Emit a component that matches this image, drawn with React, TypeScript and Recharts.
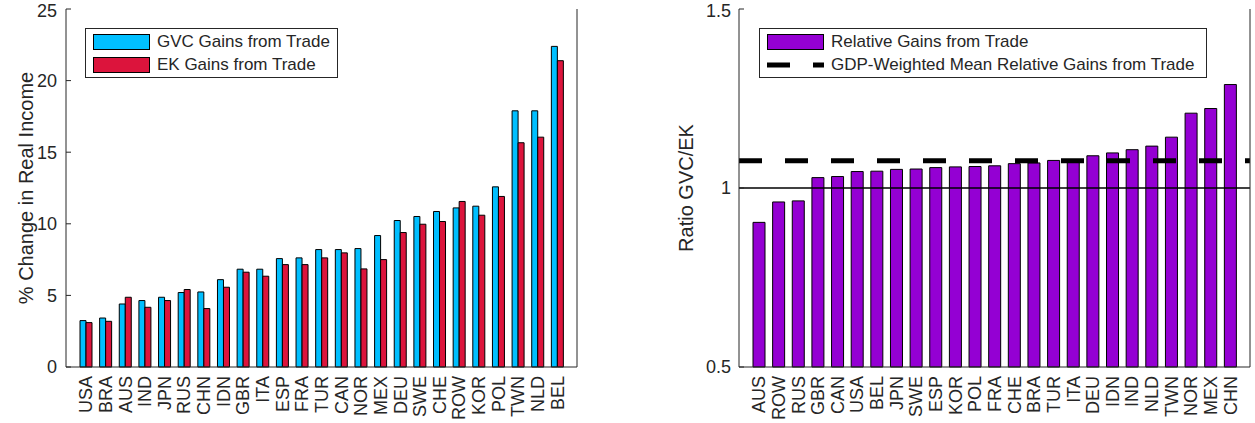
import { BarChart, Bar, XAxis, YAxis, ReferenceLine, Legend, Label } from 'recharts'

const gainCountries = ['USA', 'BRA', 'AUS', 'IND', 'JPN', 'RUS', 'CHN', 'IDN', 'GBR', 'ITA', 'ESP', 'FRA', 'TUR', 'CAN', 'NOR', 'MEX', 'DEU', 'SWE', 'CHE', 'ROW', 'KOR', 'POL', 'TWN', 'NLD', 'BEL']
const gvcGains = [3.24, 3.42, 4.4, 4.64, 4.87, 5.2, 5.24, 6.1, 6.83, 6.83, 7.57, 7.62, 8.2, 8.2, 8.27, 9.18, 10.23, 10.51, 10.86, 11.11, 11.23, 12.58, 17.89, 17.89, 22.39]
const ekGains = [3.1, 3.19, 4.87, 4.17, 4.64, 5.41, 4.08, 5.57, 6.62, 6.34, 7.15, 7.15, 7.62, 7.97, 6.85, 7.5, 9.39, 9.97, 10.16, 11.56, 10.6, 11.91, 15.66, 16.05, 21.39]
const gainTicks = [0, 5, 10, 15, 20, 25]

const ratioCountries = ['AUS', 'ROW', 'RUS', 'GBR', 'CAN', 'USA', 'BEL', 'JPN', 'SWE', 'ESP', 'KOR', 'POL', 'FRA', 'CHE', 'BRA', 'TUR', 'ITA', 'DEU', 'IDN', 'IND', 'NLD', 'TWN', 'NOR', 'MEX', 'CHN']
const relativeGains = [0.904, 0.961, 0.964, 1.029, 1.032, 1.046, 1.047, 1.052, 1.053, 1.057, 1.059, 1.06, 1.062, 1.068, 1.07, 1.077, 1.078, 1.09, 1.098, 1.107, 1.117, 1.142, 1.209, 1.222, 1.289]
const meanRelativeGain = 1.076
const ratioTicks = [0.5, 1, 1.5]

const FONT = '"Liberation Sans", Arial, Helvetica, sans-serif'
const INK = '#262626'
const CYAN = '#00BFFF'
const RED = '#DC143C'
const PURPLE = '#9400D3'

const gainData = gainCountries.map((country, i) => ({ country, gvc: gvcGains[i], ek: ekGains[i] }))
const ratioData = ratioCountries.map((country, i) => ({ country, ratio: relativeGains[i] }))

// rotated country names, reading bottom to top like the MATLAB figure
function CountryTick({ x, y, payload }: any) {
  return (
    <text
      x={x}
      y={y}
      transform={`rotate(-90, ${x}, ${y})`}
      textAnchor="end"
      dy="0.36em"
      fontSize={18}
      fontFamily={FONT}
      fill={INK}
    >
      {payload.value}
    </text>
  )
}

const axisLine = { stroke: INK, strokeWidth: 1 }
const tickLine = { stroke: INK, strokeWidth: 1 }
const yTick = { fontSize: 18, fill: INK, fontFamily: FONT }

function Swatch({ color }: { color: string }) {
  return (
    <svg width={57} height={16} style={{ display: 'block' }}>
      <rect x={0.5} y={0.5} width={56} height={15} fill={color} stroke="#000" strokeWidth={1} />
    </svg>
  )
}

function DashSwatch() {
  return (
    <svg width={57} height={16} style={{ display: 'block' }}>
      <line x1={0} x2={57} y1={8} y2={8} stroke="#000" strokeWidth={5} strokeDasharray="23 23" />
    </svg>
  )
}

function LegendBox({ width, rows }: { width: number; rows: { swatch: any; text: string }[] }) {
  return (
    <div
      style={{
        width,
        height: 50,
        boxSizing: 'border-box',
        border: `1px solid ${INK}`,
        background: '#fff',
        padding: '2px 0 0 7px',
        fontFamily: FONT,
        fontSize: 17,
        color: INK,
      }}
    >
      {rows.map((r) => (
        <div key={r.text} style={{ display: 'flex', alignItems: 'center', height: 22.5 }}>
          {r.swatch}
          <span style={{ marginLeft: 7, whiteSpace: 'nowrap' }}>{r.text}</span>
        </div>
      ))}
    </div>
  )
}

function GainsChart() {
  return (
    <BarChart width={620} height={423} data={gainData} margin={{ top: 9, right: 42, bottom: 0, left: 0 }} barGap={0}>
      <XAxis
        dataKey="country"
        interval={0}
        height={56}
        padding={{ left: 10, right: 10 }}
        axisLine={axisLine}
        tickLine={false}
        tickSize={0}
        tickMargin={9}
        tick={<CountryTick />}
      />
      <XAxis
        xAxisId="top"
        orientation="top"
        dataKey="country"
        interval={0}
        height={0}
        padding={{ left: 10, right: 10 }}
        axisLine={axisLine}
        tickLine={tickLine}
        tickSize={-5}
        tick={false}
      />
      <YAxis
        domain={[0, 25]}
        ticks={gainTicks}
        width={66}
        axisLine={axisLine}
        tickLine={tickLine}
        tickSize={-5}
        tickMargin={14}
        tick={yTick}
      >
        <Label
          value="% Change in Real Income"
          angle={-90}
          position="insideLeft"
          offset={26}
          style={{ textAnchor: 'middle', fontSize: 20, fill: INK, fontFamily: FONT }}
        />
      </YAxis>
      <YAxis
        yAxisId="right"
        orientation="right"
        domain={[0, 25]}
        ticks={gainTicks}
        width={1}
        axisLine={axisLine}
        tickLine={tickLine}
        tickSize={-5}
        tick={false}
      />
      <Legend
        layout="vertical"
        verticalAlign="middle"
        align="center"
        wrapperStyle={{ left: 85, top: 28, width: 253, height: 50 }}
        content={() => (
          <LegendBox
            width={253}
            rows={[
              { swatch: <Swatch color={CYAN} />, text: 'GVC Gains from Trade' },
              { swatch: <Swatch color={RED} />, text: 'EK Gains from Trade' },
            ]}
          />
        )}
      />
      <Bar dataKey="gvc" fill={CYAN} stroke="#000" strokeWidth={1} barSize={6} isAnimationActive={false} />
      <Bar dataKey="ek" fill={RED} stroke="#000" strokeWidth={1} barSize={6} isAnimationActive={false} />
    </BarChart>
  )
}

function RatioChart() {
  return (
    <BarChart width={615} height={423} data={ratioData} margin={{ top: 9, right: 4, bottom: 0, left: 0 }}>
      <XAxis
        dataKey="country"
        interval={0}
        height={56}
        padding={{ left: 10, right: 10 }}
        axisLine={axisLine}
        tickLine={false}
        tickSize={0}
        tickMargin={9}
        tick={<CountryTick />}
      />
      <XAxis
        xAxisId="top"
        orientation="top"
        dataKey="country"
        interval={0}
        height={0}
        padding={{ left: 10, right: 10 }}
        axisLine={axisLine}
        tickLine={tickLine}
        tickSize={-5}
        tick={false}
      />
      <YAxis
        domain={[0.5, 1.5]}
        ticks={ratioTicks}
        width={99}
        axisLine={axisLine}
        tickLine={tickLine}
        tickSize={-5}
        tickMargin={13}
        tick={yTick}
      >
        <Label
          value="Ratio GVC/EK"
          angle={-90}
          position="insideLeft"
          offset={46}
          style={{ textAnchor: 'middle', fontSize: 20, fill: INK, fontFamily: FONT }}
        />
      </YAxis>
      <YAxis
        yAxisId="right"
        orientation="right"
        domain={[0.5, 1.5]}
        ticks={ratioTicks}
        width={1}
        axisLine={axisLine}
        tickLine={tickLine}
        tickSize={-5}
        tick={false}
      />
      <Legend
        layout="vertical"
        verticalAlign="middle"
        align="center"
        wrapperStyle={{ left: 119, top: 28, width: 448, height: 50 }}
        content={() => (
          <LegendBox
            width={448}
            rows={[
              { swatch: <Swatch color={PURPLE} />, text: 'Relative Gains from Trade' },
              { swatch: <DashSwatch />, text: 'GDP-Weighted Mean Relative Gains from Trade' },
            ]}
          />
        )}
      />
      <Bar dataKey="ratio" fill={PURPLE} stroke="#000" strokeWidth={1} barSize={12} isAnimationActive={false} />
      <ReferenceLine y={1} stroke="#000" strokeWidth={1.5} />
      <ReferenceLine y={meanRelativeGain} stroke="#000" strokeWidth={5} strokeDasharray="23 23" />
    </BarChart>
  )
}

export default function App() {
  return (
    <div style={{ position: 'absolute', left: 0, top: 0, width: 1255, height: 423, background: '#fff', display: 'flex' }}>
      <GainsChart />
      <div style={{ marginLeft: 20 }}>
        <RatioChart />
      </div>
    </div>
  )
}
